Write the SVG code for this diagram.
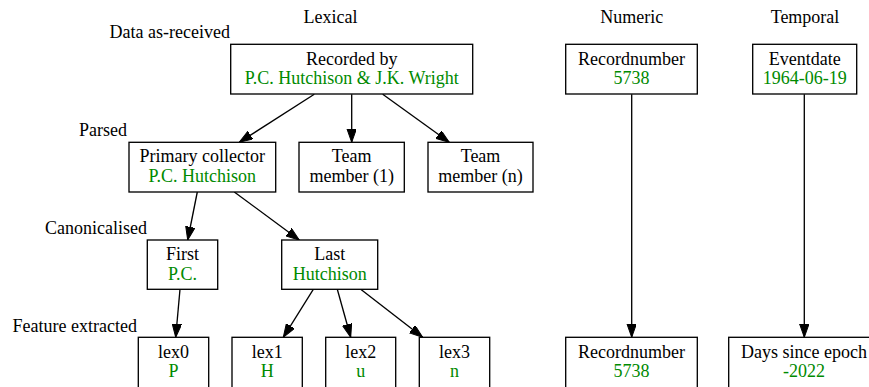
<svg xmlns="http://www.w3.org/2000/svg" width="869" height="387" viewBox="0 0 869 387">
<style>
text{font-size:18px;fill:#000}
.c{text-anchor:middle}
.e{text-anchor:end}
.v{fill:#008a00}
rect{fill:#fff;stroke:#000;stroke-width:1.33}
.edges line{stroke:#000;stroke-width:1.33;marker-end:url(#ah)}
</style>
<defs>
<marker id="ah" markerUnits="userSpaceOnUse" markerWidth="14" markerHeight="10" refX="13.3" refY="4.7" orient="auto" viewBox="0 0 14 10">
<path d="M0,0 L13.3,4.7 L0,9.4 z" fill="#000" stroke="#000" stroke-width="1"/>
</marker>
</defs>
<rect x="0" y="0" width="869" height="387" style="fill:#fff;stroke:none"/>
<g font-family="'Liberation Serif', 'Times New Roman', Tinos, 'DejaVu Serif', serif">
<g id="labels">
<text class="c" x="330.5" y="23">Lexical</text>
<text class="c" x="631.7" y="23">Numeric</text>
<text class="c" x="805" y="23">Temporal</text>
<text class="e" x="230" y="38">Data as-received</text>
<text class="e" x="127" y="136">Parsed</text>
<text class="e" x="147" y="234">Canonicalised</text>
<text class="e" x="137" y="332">Feature extracted</text>
</g>
<g class="edges" id="edges">
<line x1="314.3" y1="94.3" x2="239.3" y2="142.3"/>
<line x1="351.7" y1="94.3" x2="351.7" y2="142.3"/>
<line x1="382.7" y1="94.3" x2="449.3" y2="142.3"/>
<line x1="197.3" y1="192" x2="187.7" y2="240"/>
<line x1="234.3" y1="192" x2="299.3" y2="240"/>
<line x1="180" y1="289.3" x2="175.7" y2="337.3"/>
<line x1="313.3" y1="289.3" x2="283.3" y2="337.3"/>
<line x1="337.3" y1="289.3" x2="350.7" y2="337.3"/>
<line x1="360.7" y1="289.3" x2="422.7" y2="337.3"/>
<line x1="631.7" y1="94.3" x2="631.7" y2="337.3"/>
<line x1="804.3" y1="94.3" x2="804.3" y2="337.3"/>
</g>
<g id="recordedby">
<rect x="230.7" y="44.3" width="242" height="49.7"/>
<text class="c" x="351.7" y="65">Recorded by</text>
<text class="c v" x="351.7" y="84">P.C. Hutchison &amp; J.K. Wright</text>
</g>
<g id="primary">
<rect x="129" y="142.3" width="146.7" height="49.7"/>
<text class="c" x="202.3" y="162">Primary collector</text>
<text class="c v" x="202.3" y="182">P.C. Hutchison</text>
</g>
<g id="team1">
<rect x="299" y="142.3" width="105.3" height="49.7"/>
<text class="c" x="351.7" y="162">Team</text>
<text class="c" x="351.7" y="182">member (1)</text>
</g>
<g id="teamn">
<rect x="428" y="142.3" width="105" height="49.7"/>
<text class="c" x="480.5" y="162">Team</text>
<text class="c" x="480.5" y="182">member (n)</text>
</g>
<g id="first">
<rect x="147.3" y="240" width="70.4" height="49.3"/>
<text class="c" x="182.5" y="260">First</text>
<text class="c v" x="182.5" y="280">P.C.</text>
</g>
<g id="last">
<rect x="281.7" y="240" width="96" height="49.3"/>
<text class="c" x="329.7" y="260">Last</text>
<text class="c v" x="329.7" y="280">Hutchison</text>
</g>
<g id="lex0">
<rect x="138.3" y="337.3" width="70.4" height="52"/>
<text class="c" x="173.5" y="358">lex0</text>
<text class="c v" x="173.5" y="377">P</text>
</g>
<g id="lex1">
<rect x="232" y="337.3" width="70.3" height="52"/>
<text class="c" x="267.2" y="358">lex1</text>
<text class="c v" x="267.2" y="377">H</text>
</g>
<g id="lex2">
<rect x="325.7" y="337.3" width="70" height="52"/>
<text class="c" x="360.7" y="358">lex2</text>
<text class="c v" x="360.7" y="377">u</text>
</g>
<g id="lex3">
<rect x="419.3" y="337.3" width="70.4" height="52"/>
<text class="c" x="454.5" y="358">lex3</text>
<text class="c v" x="454.5" y="377">n</text>
</g>
<g id="recnum">
<rect x="565.7" y="44.3" width="131.6" height="49.7"/>
<text class="c" x="631.5" y="65">Recordnumber</text>
<text class="c v" x="631.5" y="84">5738</text>
</g>
<g id="eventdate">
<rect x="752.7" y="44.3" width="104" height="49.7"/>
<text class="c" x="804.7" y="65">Eventdate</text>
<text class="c v" x="804.7" y="84">1964-06-19</text>
</g>
<g id="recnum2">
<rect x="565.7" y="337.3" width="131.6" height="52"/>
<text class="c" x="631.5" y="358">Recordnumber</text>
<text class="c v" x="631.5" y="377">5738</text>
</g>
<g id="days">
<rect x="728.7" y="337.3" width="151" height="52"/>
<text class="c" x="804" y="358">Days since epoch</text>
<text class="c v" x="804" y="377">-2022</text>
</g>
</g>
</svg>
